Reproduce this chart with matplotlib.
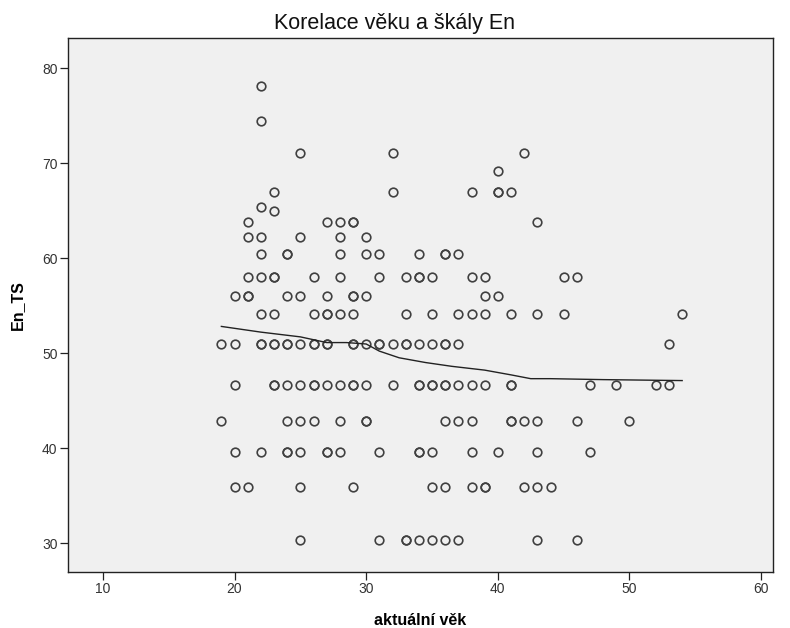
import matplotlib
matplotlib.use("Agg")
import matplotlib.pyplot as plt

# ---- data ----
row_30_3 = [25, 31, 33, 33, 34, 35, 36, 37, 43, 46]
row_35_9 = [20, 21, 25, 29, 35, 36, 38, 39, 39, 42, 43, 44]
row_39_6 = [20, 22, 24, 24, 25, 27, 27, 28, 31, 34, 34, 35, 38, 40, 43, 47]
row_42_8 = [19, 24, 25, 26, 28, 30, 30, 36, 37, 38, 41, 41, 42, 43, 46, 50]
row_46_6 = [20, 23, 23, 24, 25, 26, 26, 27, 28, 29, 29, 30, 32, 34, 34, 35, 35,
            36, 36, 37, 38, 39, 41, 41, 47, 49, 52, 53]
row_51_0 = [19, 20, 22, 22, 23, 23, 24, 24, 25, 26, 26, 27, 27, 29, 29, 30, 31, 31,
            32, 33, 33, 34, 35, 36, 36, 37, 53]
row_54_1 = [22, 23, 26, 27, 27, 28, 29, 33, 35, 37, 38, 39, 41, 43, 45, 54]
row_56_0 = [20, 21, 21, 24, 25, 27, 29, 29, 30, 39, 40]
row_58_0 = [21, 22, 23, 23, 26, 28, 31, 33, 34, 34, 35, 38, 39, 45, 46]
row_60_4 = [22, 24, 24, 28, 30, 31, 34, 36, 36, 37]
row_62_2 = [21, 22, 25, 28, 30]
row_63_8 = [21, 27, 28, 29, 29, 43]
row_65_4 = [22]
row_65_0 = [23]
row_67_0 = [23, 32, 38, 40, 40, 41]
row_69_2 = [40]
row_71_1 = [25, 32, 42]
row_74_4 = [22]
row_78_1 = [22]

score_levels = [30.3, 35.9, 39.6, 42.8, 46.6, 51.0, 54.1, 56.0, 58.0, 60.4, 62.2,
                63.8, 65.4, 65.0, 67.0, 69.2, 71.1, 74.4, 78.1]
age_rows = [row_30_3, row_35_9, row_39_6, row_42_8, row_46_6, row_51_0, row_54_1,
            row_56_0, row_58_0, row_60_4, row_62_2, row_63_8, row_65_4, row_65_0,
            row_67_0, row_69_2, row_71_1, row_74_4, row_78_1]

# loess fit line
fit_age = [19, 22, 25, 27, 28.5, 30, 31, 32.5, 34.5, 36.5, 39, 41, 42.5, 44, 48, 54]
fit_score = [52.8, 52.2, 51.7, 51.1, 51.1, 50.95, 50.2, 49.5, 49.0, 48.6, 48.2,
             47.7, 47.3, 47.3, 47.2, 47.1]

x_ticks = [10, 20, 30, 40, 50, 60]
y_ticks = [30, 40, 50, 60, 70, 80]

title = "Korelace věku a škály En"
x_label = "aktuální věk"
y_label = "En_TS"

# ---- build point lists ----
ages = []
scores = []
for lvl, row in zip(score_levels, age_rows):
    for a in row:
        ages.append(a)
        scores.append(lvl)

plt.rcParams['font.family'] = ['Liberation Sans', 'DejaVu Sans']

fig = plt.figure(figsize=(7.9, 6.28), dpi=100)
ax = fig.add_axes([68 / 790, 1 - 572 / 628, (773 - 68) / 790, (572 - 38) / 628])
ax.set_facecolor('#F0F0F0')

ax.plot(ages, scores, linestyle='none', marker='o', markersize=6.2,
        markerfacecolor='none', markeredgecolor='#404040', markeredgewidth=1.2)
ax.plot(fit_age, fit_score, color='#222222', linewidth=1.0)

ax.set_xlim(7.35, 60.9)
ax.set_ylim(26.95, 83.16)
ax.set_xticks(x_ticks)
ax.set_yticks(y_ticks)
ax.tick_params(direction='out', length=6, width=0.9, pad=1.5, labelsize=10,
               colors='#222222', labelcolor='#333333')

for s in ax.spines.values():
    s.set_color('#222222')
    s.set_linewidth(1.0)

fig.text(0.5, 1 - 23 / 628, title, fontsize=15.5, ha='center', va='center',
         color='#111111')
ax.set_xlabel(x_label, fontsize=11.5, fontweight='bold', labelpad=12)
ax.set_ylabel(y_label, fontsize=11.5, fontweight='bold', labelpad=12)

fig.savefig("out.png", dpi=100, facecolor='white')
